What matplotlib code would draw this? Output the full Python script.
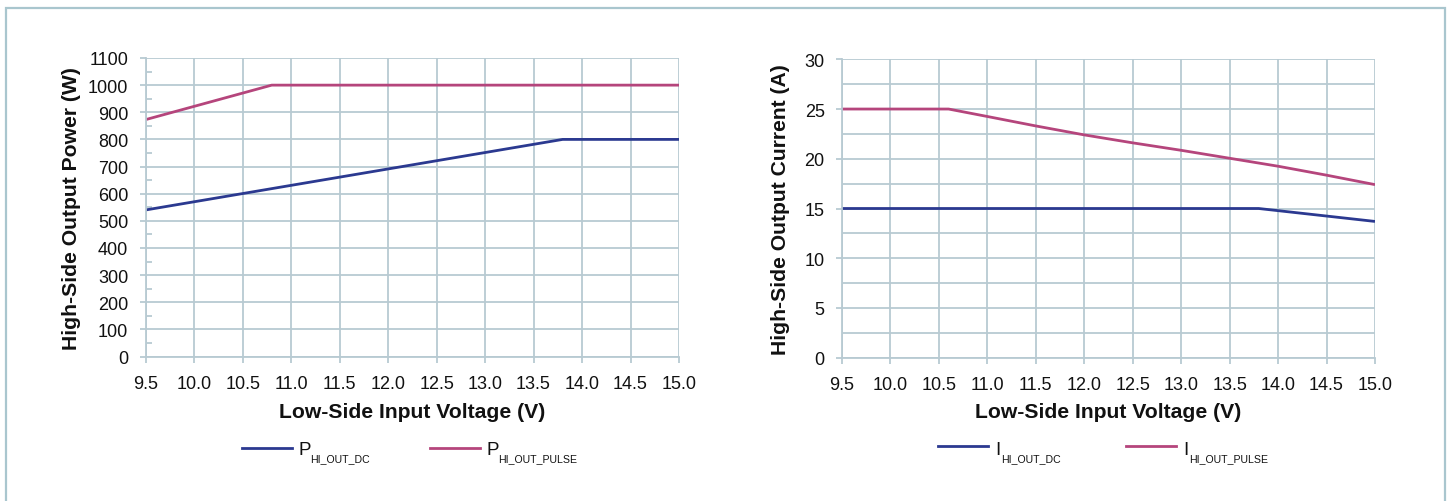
import matplotlib
matplotlib.use("Agg")
import matplotlib.pyplot as plt
from matplotlib.lines import Line2D
from matplotlib.patches import Rectangle
from matplotlib.ticker import MultipleLocator

plt.rcParams['font.family'] = ['Liberation Sans', 'DejaVu Sans']

# Output power vs. low-side input voltage
p_dc_v = [9.5, 13.8, 15.0]
p_dc_w = [540, 800, 800]
p_pulse_v = [9.5, 10.8, 15.0]
p_pulse_w = [873, 1000, 1000]

# Output current vs. low-side input voltage
i_dc_v = [9.5, 13.8, 15.0]
i_dc_a = [15.0, 15.0, 13.7]
i_pulse_v = [9.5, 10.6, 11.0, 11.5, 12.0, 12.5, 13.0, 13.5, 14.0, 14.5, 15.0]
i_pulse_a = [25.0, 25.0, 24.25, 23.3, 22.4, 21.6, 20.85, 20.05, 19.25, 18.35, 17.4]

x_ticks = [9.5, 10.0, 10.5, 11.0, 11.5, 12.0, 12.5, 13.0, 13.5, 14.0, 14.5, 15.0]

# legend entries: (main symbol, subscript)
power_labels = [('P', 'HI_OUT_DC'), ('P', 'HI_OUT_PULSE')]
current_labels = [('I', 'HI_OUT_DC'), ('I', 'HI_OUT_PULSE')]

BLUE = '#2b3990'
PINK = '#b5457c'
GRID = '#b8cad2'
FRAME = '#a9c6ce'
TXT = '#111111'

W, H = 1449, 502
fig = plt.figure(figsize=(W / 100, H / 100), dpi=100)


def fx(px):
    return px / W


def fy(py):
    return 1 - py / H


# light outer frame
fig.patches.append(Rectangle((fx(6.5), -0.05), fx(1445 - 6.5), fy(9.3) + 0.05,
                             transform=fig.transFigure, fill=False,
                             edgecolor=FRAME, linewidth=1.6))

ax1 = fig.add_axes([fx(145.7), fy(357.5), fx(679 - 145.7), (357.5 - 59) / H])
ax2 = fig.add_axes([fx(842), fy(358.7), fx(1375 - 842), (358.7 - 60.3) / H])


def style(ax, ymax, ymajor, ygrid):
    ax.set_xlim(9.5, 15.0)
    ax.set_ylim(0, ymax)
    ax.set_xticks(x_ticks)
    ax.set_xticklabels([f"{v:.1f}" for v in x_ticks])
    ax.yaxis.set_major_locator(MultipleLocator(ymajor))
    ax.grid(True, axis='x', color=GRID, linewidth=1.3)
    n = int(round(ymax / ygrid))
    for k in range(n + 1):
        ax.axhline(k * ygrid, color=GRID, linewidth=1.3, zorder=0.5)
    for s in ['top', 'right']:
        ax.spines[s].set_visible(False)
    for s in ['left', 'bottom']:
        ax.spines[s].set_color(GRID)
        ax.spines[s].set_linewidth(1.3)
    ax.tick_params(axis='both', which='major', length=4, width=1.3, color=GRID,
                   labelsize=13, labelcolor=TXT)
    ax.tick_params(axis='x', pad=9)
    ax.tick_params(axis='y', pad=8.5)
    ax.set_axisbelow(True)


style(ax1, 1100, 100, 100)
ax1.yaxis.set_minor_locator(MultipleLocator(50))
ax1.tick_params(axis='y', which='minor', direction='in', length=4, width=1.3, color=GRID)
style(ax2, 30, 5, 2.5)

ax1.plot(p_dc_v, p_dc_w, color=BLUE, linewidth=2.0, solid_capstyle='butt')
ax1.plot(p_pulse_v, p_pulse_w, color=PINK, linewidth=2.0, solid_capstyle='butt')
ax2.plot(i_dc_v, i_dc_a, color=BLUE, linewidth=2.0, solid_capstyle='butt')
ax2.plot(i_pulse_v, i_pulse_a, color=PINK, linewidth=2.0, solid_capstyle='butt')

lab_kw = dict(fontsize=15.2, fontweight='bold', color=TXT)
for ax, ylabel, yl_x in [(ax1, 'High-Side Output Power (W)', 72),
                         (ax2, 'High-Side Output Current (A)', 781)]:
    ax.set_xlabel('Low-Side Input Voltage (V)', **lab_kw)
    ax.set_ylabel(ylabel, **lab_kw)
    bb = ax.get_position()
    x0, y0 = bb.x0 * W, (1 - bb.y1) * H
    w, h = bb.width * W, bb.height * H
    ax.xaxis.set_label_coords(0.5, -(413 - (y0 + h)) / h)
    ax.xaxis.label.set_va('center')
    ax.yaxis.set_label_coords((yl_x - x0) / w, 0.5)
    ax.yaxis.label.set_va('center')


def legend_entry(x_line, y_line, color, sym, sub):
    fig.add_artist(Line2D([fx(x_line), fx(x_line + 50)], [fy(y_line), fy(y_line)],
                          transform=fig.transFigure, color=color, linewidth=2.0))
    t = fig.text(fx(x_line + 57), fy(455), sym, fontsize=13.5, color=TXT,
                 ha='left', va='baseline')
    sub_x = x_line + 57 + (11 if sym == 'P' else 6)
    fig.text(fx(sub_x), fy(462), sub, fontsize=7.6, color=TXT,
             ha='left', va='baseline')
    return t


legend_entry(242, 449, BLUE, *power_labels[0])
legend_entry(430, 449, PINK, *power_labels[1])
legend_entry(938, 447, BLUE, *current_labels[0])
legend_entry(1126, 447, PINK, *current_labels[1])

fig.savefig('out.png', dpi=100, facecolor='white')
